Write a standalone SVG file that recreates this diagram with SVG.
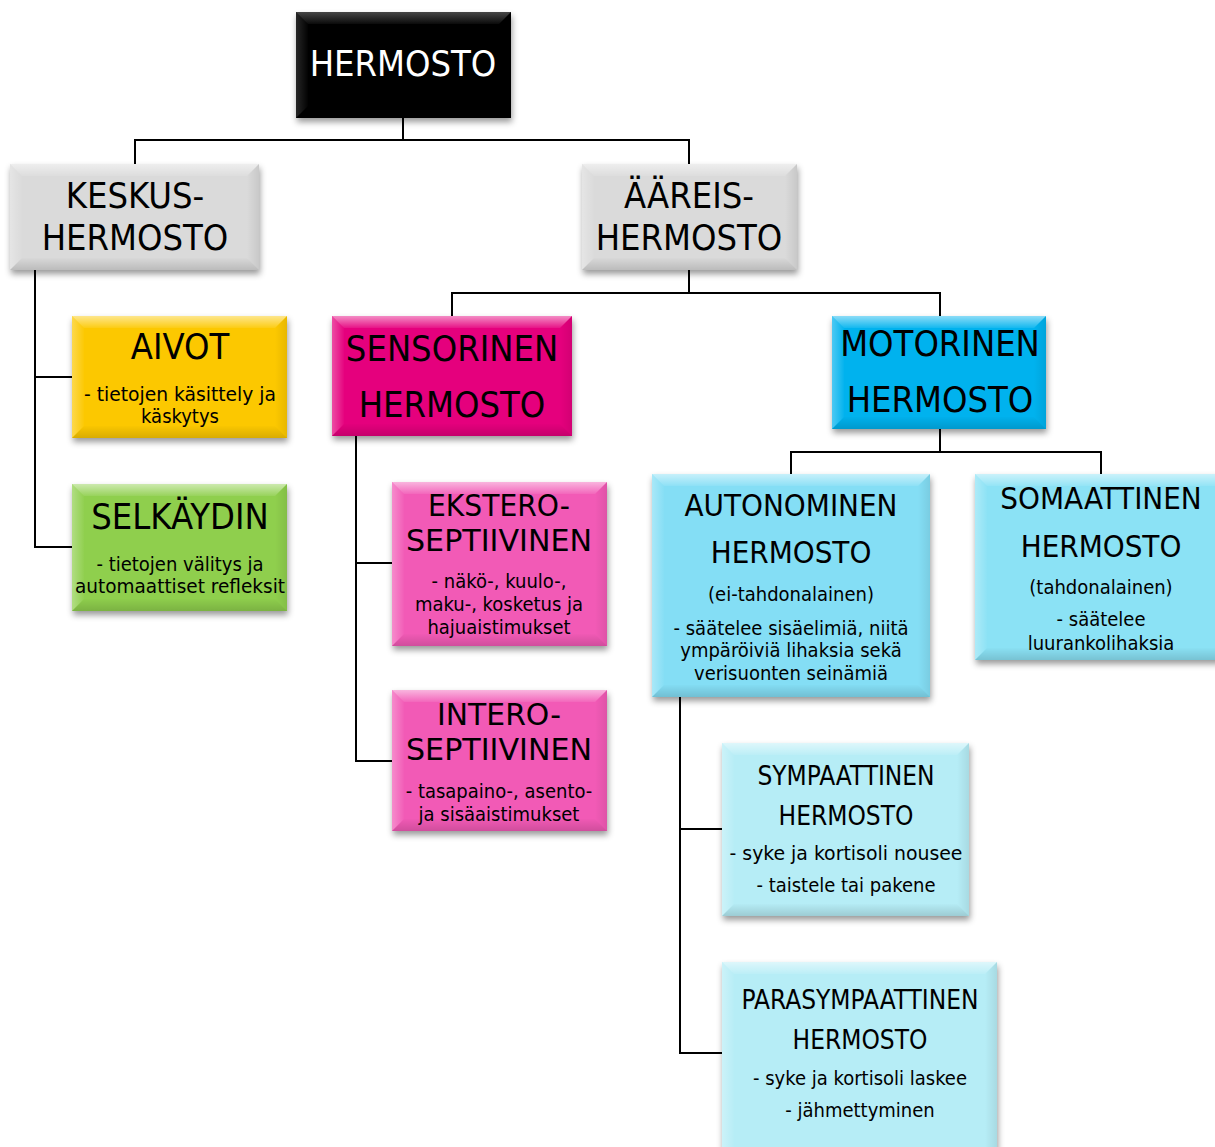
<svg xmlns="http://www.w3.org/2000/svg" width="1215" height="1147" viewBox="0 0 1215 1147">
  <defs>
    <filter id="shadow" x="-10%" y="-10%" width="125%" height="130%">
      <feDropShadow dx="1" dy="4" stdDeviation="3" flood-color="#000" flood-opacity="0.4"/>
    </filter>
    <!-- soft bevel shading, edge to inner side -->
    <linearGradient id="gTop" x1="0" y1="0" x2="0" y2="1">
      <stop offset="0" stop-color="#fff" stop-opacity="0.55"/>
      <stop offset="1" stop-color="#fff" stop-opacity="0.08"/>
    </linearGradient>
    <linearGradient id="gLeft" x1="0" y1="0" x2="1" y2="0">
      <stop offset="0" stop-color="#fff" stop-opacity="0.3"/>
      <stop offset="1" stop-color="#fff" stop-opacity="0.02"/>
    </linearGradient>
    <linearGradient id="gRight" x1="1" y1="0" x2="0" y2="0">
      <stop offset="0" stop-color="#000" stop-opacity="0.08"/>
      <stop offset="1" stop-color="#000" stop-opacity="0"/>
    </linearGradient>
    <linearGradient id="gBottom" x1="0" y1="1" x2="0" y2="0">
      <stop offset="0" stop-color="#000" stop-opacity="0.14"/>
      <stop offset="1" stop-color="#000" stop-opacity="0.01"/>
    </linearGradient>
  </defs>
  <style>
    text { font-family: "DejaVu Sans Condensed", "DejaVu Sans", sans-serif; font-stretch: condensed; text-anchor: middle; fill: #000; }
    .t36 { font-size: 36px; }
    .t30 { font-size: 30px; }
    .t31 { font-size: 31px; }
    .t26 { font-size: 26px; }
    .t20 { font-size: 20px; }
    .white { fill: #fff; }
    .face { filter: url(#shadow); }
    .bt { fill: url(#gTop); }
    .bl { fill: url(#gLeft); }
    .br { fill: url(#gRight); }
    .bb { fill: url(#gBottom); }
    .wire { fill: none; stroke: #000; stroke-width: 2; }
  </style>

  <!-- connectors -->
  <g id="connectors">
    <path class="wire" d="M403 118 V140 M135 164 V140 H689 V164"/>
    <path class="wire" d="M35 270 V547 H72 M35 377 H72"/>
    <path class="wire" d="M689 270 V293 M452 316 V293 H940 V316"/>
    <path class="wire" d="M356 436 V761 H392 M356 563 H392"/>
    <path class="wire" d="M940 429 V452 M791 474 V452 H1101 V474"/>
    <path class="wire" d="M680 697 V1053 H722 M680 829 H722"/>
  </g>

  <!-- root -->
  <g id="n-hermosto">
    <rect class="face" x="296" y="12" width="215" height="106" fill="#000"/>
    <polygon class="bt" points="296,12 511,12 499,24 308,24" opacity="0.5"/>
    <polygon class="bl" points="296,12 308,24 308,106 296,118" opacity="0.5"/>
    <polygon class="br" points="511,12 511,118 499,106 499,24"/>
    <polygon class="bb" points="296,118 308,106 499,106 511,118"/>
    <text class="t36 white" x="403" y="76">HERMOSTO</text>
  </g>

  <g id="n-keskus">
    <rect class="face" x="10" y="164" width="249" height="106" fill="#dadada"/>
    <polygon class="bt" points="10,164 259,164 247,176 22,176"/>
    <polygon class="bl" points="10,164 22,176 22,258 10,270"/>
    <polygon class="br" points="259,164 259,270 247,258 247,176"/>
    <polygon class="bb" points="10,270 22,258 247,258 259,270"/>
    <text class="t36" x="135" y="208">KESKUS-</text>
    <text class="t36" x="135" y="250">HERMOSTO</text>
  </g>

  <g id="n-aareis">
    <rect class="face" x="582" y="164" width="215" height="106" fill="#dadada"/>
    <polygon class="bt" points="582,164 797,164 785,176 594,176"/>
    <polygon class="bl" points="582,164 594,176 594,258 582,270"/>
    <polygon class="br" points="797,164 797,270 785,258 785,176"/>
    <polygon class="bb" points="582,270 594,258 785,258 797,270"/>
    <text class="t36" x="689" y="208">ÄÄREIS-</text>
    <text class="t36" x="689" y="250">HERMOSTO</text>
  </g>

  <g id="n-aivot">
    <rect class="face" x="72" y="316" width="215" height="122" fill="#fcc800"/>
    <polygon class="bt" points="72,316 287,316 275,328 84,328"/>
    <polygon class="bl" points="72,316 84,328 84,426 72,438"/>
    <polygon class="br" points="287,316 287,438 275,426 275,328"/>
    <polygon class="bb" points="72,438 84,426 275,426 287,438"/>
    <text class="t36" x="180" y="359">AIVOT</text>
    <text class="t20" x="180" y="401" textLength="192" lengthAdjust="spacingAndGlyphs">- tietojen käsittely ja</text>
    <text class="t20" x="180" y="423">käskytys</text>
  </g>

  <g id="n-selkaydin">
    <rect class="face" x="72" y="484" width="215" height="127" fill="#8fcf4e"/>
    <polygon class="bt" points="72,484 287,484 275,496 84,496"/>
    <polygon class="bl" points="72,484 84,496 84,599 72,611"/>
    <polygon class="br" points="287,484 287,611 275,599 275,496"/>
    <polygon class="bb" points="72,611 84,599 275,599 287,611"/>
    <text class="t36" x="180" y="529">SELKÄYDIN</text>
    <text class="t20" x="180" y="571">- tietojen välitys ja</text>
    <text class="t20" x="180" y="593" textLength="210" lengthAdjust="spacingAndGlyphs">automaattiset refleksit</text>
  </g>

  <g id="n-sensorinen">
    <rect class="face" x="332" y="316" width="240" height="120" fill="#e5007d"/>
    <polygon class="bt" points="332,316 572,316 560,328 344,328"/>
    <polygon class="bl" points="332,316 344,328 344,424 332,436"/>
    <polygon class="br" points="572,316 572,436 560,424 560,328"/>
    <polygon class="bb" points="332,436 344,424 560,424 572,436"/>
    <text class="t36" x="452" y="361">SENSORINEN</text>
    <text class="t36" x="452" y="417">HERMOSTO</text>
  </g>

  <g id="n-motorinen">
    <rect class="face" x="832" y="316" width="214" height="113" fill="#00b2ee"/>
    <polygon class="bt" points="832,316 1046,316 1034,328 844,328"/>
    <polygon class="bl" points="832,316 844,328 844,417 832,429"/>
    <polygon class="br" points="1046,316 1046,429 1034,417 1034,328"/>
    <polygon class="bb" points="832,429 844,417 1034,417 1046,429"/>
    <text class="t36" x="940" y="356">MOTORINEN</text>
    <text class="t36" x="940" y="412">HERMOSTO</text>
  </g>

  <g id="n-ekstero">
    <rect class="face" x="392" y="482" width="215" height="164" fill="#f25ab6"/>
    <polygon class="bt" points="392,482 607,482 595,494 404,494"/>
    <polygon class="bl" points="392,482 404,494 404,634 392,646"/>
    <polygon class="br" points="607,482 607,646 595,634 595,494"/>
    <polygon class="bb" points="392,646 404,634 595,634 607,646"/>
    <text class="t30" x="499" y="516" textLength="142" lengthAdjust="spacingAndGlyphs">EKSTERO-</text>
    <text class="t30" x="499" y="551" textLength="186" lengthAdjust="spacingAndGlyphs">SEPTIIVINEN</text>
    <text class="t20" x="499" y="588">- näkö-, kuulo-,</text>
    <text class="t20" x="499" y="611">maku-, kosketus ja</text>
    <text class="t20" x="499" y="634">hajuaistimukset</text>
  </g>

  <g id="n-intero">
    <rect class="face" x="392" y="690" width="215" height="141" fill="#f25ab6"/>
    <polygon class="bt" points="392,690 607,690 595,702 404,702"/>
    <polygon class="bl" points="392,690 404,702 404,819 392,831"/>
    <polygon class="br" points="607,690 607,831 595,819 595,702"/>
    <polygon class="bb" points="392,831 404,819 595,819 607,831"/>
    <text class="t30" x="499" y="725" textLength="124" lengthAdjust="spacingAndGlyphs">INTERO-</text>
    <text class="t30" x="499" y="760" textLength="186" lengthAdjust="spacingAndGlyphs">SEPTIIVINEN</text>
    <text class="t20" x="499" y="798">- tasapaino-, asento-</text>
    <text class="t20" x="499" y="821">ja sisäaistimukset</text>
  </g>

  <g id="n-autonominen">
    <rect class="face" x="652" y="474" width="278" height="223" fill="#84def5"/>
    <polygon class="bt" points="652,474 930,474 918,486 664,486"/>
    <polygon class="bl" points="652,474 664,486 664,685 652,697"/>
    <polygon class="br" points="930,474 930,697 918,685 918,486"/>
    <polygon class="bb" points="652,697 664,685 918,685 930,697"/>
    <text class="t31" x="791" y="516">AUTONOMINEN</text>
    <text class="t31" x="791" y="563">HERMOSTO</text>
    <text class="t20" x="791" y="601">(ei-tahdonalainen)</text>
    <text class="t20" x="791" y="635">- säätelee sisäelimiä, niitä</text>
    <text class="t20" x="791" y="657">ympäröiviä lihaksia sekä</text>
    <text class="t20" x="791" y="680">verisuonten seinämiä</text>
  </g>

  <g id="n-somaattinen">
    <rect class="face" x="975" y="474" width="252" height="186" fill="#8be2f5"/>
    <polygon class="bt" points="975,474 1227,474 1215,486 987,486"/>
    <polygon class="bl" points="975,474 987,486 987,648 975,660"/>
    <polygon class="bb" points="975,660 987,648 1215,648 1227,660"/>
    <text class="t31" x="1101" y="509">SOMAATTINEN</text>
    <text class="t31" x="1101" y="557">HERMOSTO</text>
    <text class="t20" x="1101" y="594">(tahdonalainen)</text>
    <text class="t20" x="1101" y="626">- säätelee</text>
    <text class="t20" x="1101" y="650">luurankolihaksia</text>
  </g>

  <g id="n-sympaattinen">
    <rect class="face" x="722" y="743" width="247" height="173" fill="#b6edf6"/>
    <polygon class="bt" points="722,743 969,743 957,755 734,755"/>
    <polygon class="bl" points="722,743 734,755 734,904 722,916"/>
    <polygon class="br" points="969,743 969,916 957,904 957,755"/>
    <polygon class="bb" points="722,916 734,904 957,904 969,916"/>
    <text class="t26" x="846" y="785">SYMPAATTINEN</text>
    <text class="t26" x="846" y="825">HERMOSTO</text>
    <text class="t20" x="846" y="860" textLength="233" lengthAdjust="spacingAndGlyphs">- syke ja kortisoli nousee</text>
    <text class="t20" x="846" y="892">- taistele tai pakene</text>
  </g>

  <g id="n-parasympaattinen">
    <rect class="face" x="722" y="962" width="275" height="198" fill="#b6edf6"/>
    <polygon class="bt" points="722,962 997,962 985,974 734,974"/>
    <polygon class="bl" points="722,962 734,974 734,1148 722,1160"/>
    <polygon class="br" points="997,962 997,1160 985,1148 985,974"/>
    <text class="t26" x="860" y="1009">PARASYMPAATTINEN</text>
    <text class="t26" x="860" y="1049">HERMOSTO</text>
    <text class="t20" x="860" y="1085">- syke ja kortisoli laskee</text>
    <text class="t20" x="860" y="1117">- jähmettyminen</text>
  </g>
</svg>
